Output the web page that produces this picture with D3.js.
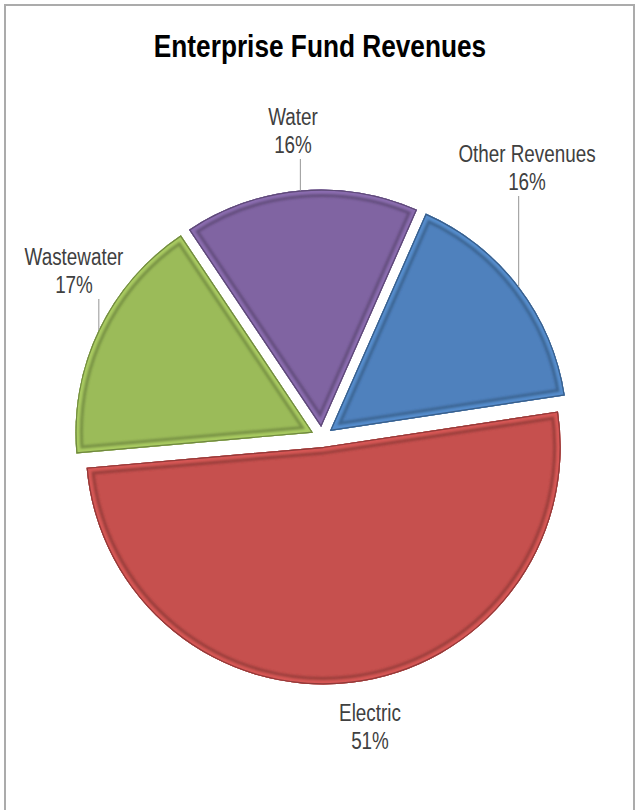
<!DOCTYPE html>
<html>
<head>
<meta charset="utf-8">
<script src="https://cdn.jsdelivr.net/npm/d3@7/dist/d3.min.js"></script>
<style>
  html, body { margin: 0; padding: 0; background: #fff; }
  svg { display: block; }
</style>
</head>
<body>
<svg id="chart" width="636" height="810"></svg>
<script>
// Revenue shares by fund (percent of total)
const categories = ["Electric", "Wastewater", "Water", "Other Revenues"];
const shares = [51, 17, 16, 16];
const title = "Enterprise Fund Revenues";

// Office-style palette, one colour per category
const palette = ["#C6504E", "#9BBB59", "#8064A2", "#4F81BD"];

// Label placement: centre x and baseline of the first line, plus whether a leader line is drawn
const labelLayout = {
  "Electric":       { x: 370, y: 721, leader: false },
  "Wastewater":     { x: 74,  y: 265, leader: true },
  "Water":          { x: 293, y: 125, leader: true },
  "Other Revenues": { x: 527, y: 162, leader: true }
};

const W = 636, H = 810;
const cx = 322, cy = 437;      // pie centre
const radius = 237.5;
const explode = 10;            // distance each slice is pulled out
const rotation = 81.4 * Math.PI / 180;
const narrow = 0.82;           // horizontal squeeze for a condensed face

const fontFamily = "'Liberation Sans', Arial, sans-serif";

const svg = d3.select("#chart");
const defs = svg.append("defs");

// soft edge used for the bevel shading
defs.append("filter").attr("id", "soft")
  .attr("x", "-10%").attr("y", "-10%").attr("width", "120%").attr("height", "120%")
  .append("feGaussianBlur").attr("stdDeviation", 1.3);

// chart frame
svg.append("rect")
  .attr("x", 5).attr("y", 5).attr("width", 629).attr("height", H + 20)
  .attr("fill", "#fff").attr("stroke", "#ababab").attr("stroke-width", 2);

// condensed text helper: draws lines centred on x, squeezed horizontally
function condensedText(x, y, lines, size, weight, fill, lineGap) {
  const g = svg.append("g").attr("transform", `translate(${x},${y}) scale(${narrow},1)`);
  const t = g.append("text")
    .attr("text-anchor", "middle")
    .attr("font-family", fontFamily)
    .attr("font-weight", weight)
    .attr("font-size", size)
    .attr("fill", fill);
  lines.forEach((s, i) => t.append("tspan").attr("x", 0).attr("y", i * lineGap).text(s));
  return g;
}

condensedText(320, 57, [title], 32, "bold", "#000", 0);

const color = d3.scaleOrdinal().domain(categories).range(palette);

const pie = d3.pie()
  .value(d => d.value)
  .sort(null)
  .startAngle(rotation)
  .endAngle(rotation + 2 * Math.PI);

const data = categories.map((c, i) => ({ name: c, value: shares[i] }));
const arcs = pie(data);

const arc = d3.arc().innerRadius(0).outerRadius(radius);

const slices = svg.append("g").attr("transform", `translate(${cx},${cy})`);

arcs.forEach((a, i) => {
  const mid = (a.startAngle + a.endAngle) / 2;
  const dx = Math.sin(mid) * explode, dy = -Math.cos(mid) * explode;
  const base = d3.color(color(a.data.name));
  const dark = base.darker(0.9);
  const light = base.brighter(0.22);
  const g = slices.append("g").attr("transform", `translate(${dx},${dy})`);
  const d = arc(a);

  const clipId = "clip" + i;
  defs.append("clipPath").attr("id", clipId).append("path")
    .attr("d", d).attr("transform", `translate(${cx + dx},${cy + dy})`);

  g.append("path").attr("d", d).attr("fill", base.formatHex());

  // bevel: dark inner groove with a lighter rim outside it
  const bevel = svg.append("g").attr("clip-path", `url(#${clipId})`)
    .append("g").attr("transform", `translate(${cx + dx},${cy + dy})`);
  bevel.append("path").attr("d", d)
    .attr("fill", "none").attr("stroke", dark.formatHex())
    .attr("stroke-width", 15).attr("stroke-linejoin", "round")
    .attr("opacity", 0.8).attr("filter", "url(#soft)");
  bevel.append("path").attr("d", d)
    .attr("fill", "none").attr("stroke", light.formatHex())
    .attr("stroke-width", 9).attr("stroke-linejoin", "round")
    .attr("filter", "url(#soft)");
  bevel.append("path").attr("d", d)
    .attr("fill", "none").attr("stroke", dark.formatHex())
    .attr("stroke-width", 2.4).attr("stroke-linejoin", "round");

  // leader line from the arc midpoint straight up to the label
  const lay = labelLayout[a.data.name];
  if (lay.leader) {
    const px = cx + dx + Math.sin(mid) * radius;
    const py = cy + dy - Math.cos(mid) * radius;
    svg.append("line")
      .attr("x1", px).attr("y1", py)
      .attr("x2", px).attr("y2", lay.y + 34)
      .attr("stroke", "#a6a6a6").attr("stroke-width", 1.2);
  }
});

// category labels with percentage
arcs.forEach(a => {
  const lay = labelLayout[a.data.name];
  condensedText(lay.x, lay.y, [a.data.name, Math.round(a.data.value) + "%"], 23, "normal", "#404040", 28);
});
</script>
</body>
</html>
